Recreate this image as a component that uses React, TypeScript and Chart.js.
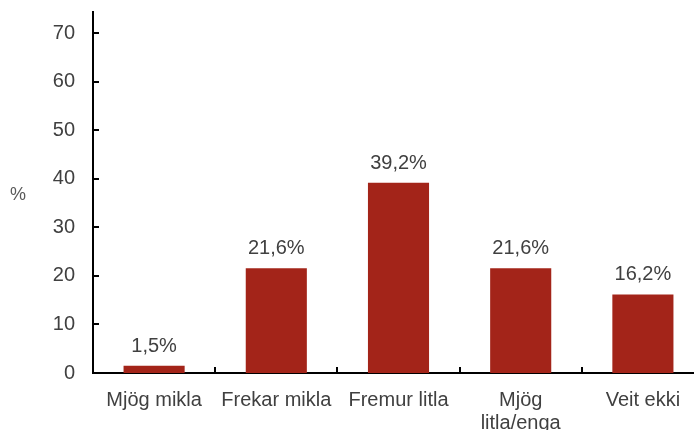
import React, { useEffect, useRef } from "react";
import { Chart, registerables } from "chart.js";

Chart.register(...registerables);

const categories: (string | string[])[] = [
  "Mjög mikla",
  "Frekar mikla",
  "Fremur litla",
  ["Mjög", "litla/enga"],
  "Veit ekki",
];
const values: number[] = [1.5, 21.6, 39.2, 21.6, 16.2];
const yTickValues: number[] = [0, 10, 20, 30, 40, 50, 60, 70];
const yAxisMax = 74.4;
const yUnitLabel = "%";

const BAR_COLOR = "#A32419";
const TEXT_COLOR = "#404040";
const FONT = "'Liberation Sans', Arial, sans-serif";

const fmt = (v: number) => v.toFixed(1).replace(".", ",") + "%";

const labelPlugin = {
  id: "customDecor",
  afterDraw(chart: any) {
    const ctx = chart.ctx;
    const meta = chart.getDatasetMeta(0);
    const xs = chart.scales.x;
    const ys = chart.scales.y;
    ctx.save();
    // data labels
    ctx.font = `20px ${FONT}`;
    ctx.fillStyle = TEXT_COLOR;
    ctx.textAlign = "center";
    ctx.textBaseline = "alphabetic";
    meta.data.forEach((el: any, i: number) => {
      ctx.fillText(fmt(values[i]), el.x, el.y - 14);
    });
    // inward tick marks on y axis
    ctx.strokeStyle = "#000";
    ctx.lineWidth = 2;
    const left = chart.chartArea.left;
    yTickValues.forEach((v) => {
      const y = Math.round(ys.getPixelForValue(v));
      ctx.beginPath();
      ctx.moveTo(left, y);
      ctx.lineTo(left + 6, y);
      ctx.stroke();
    });
    // inward tick marks on x axis at category boundaries
    const bottom = chart.chartArea.bottom;
    for (let i = 0; i < categories.length; i++) {
      const half = (xs.getPixelForValue(1) - xs.getPixelForValue(0)) / 2;
      const x = Math.round(xs.getPixelForValue(i) + half);
      ctx.beginPath();
      ctx.moveTo(x, bottom);
      ctx.lineTo(x, bottom - 6);
      ctx.stroke();
    }
    // unit label
    ctx.font = `18px ${FONT}`;
    ctx.fillStyle = "#595959";
    ctx.textAlign = "center";
    ctx.textBaseline = "middle";
    ctx.fillText(yUnitLabel, 18, ys.getPixelForValue(36.6));
    ctx.restore();
  },
};

export default function App() {
  const ref = useRef<HTMLCanvasElement | null>(null);
  useEffect(() => {
    document.body.style.margin = "0";
    document.body.style.overflow = "hidden";
    document.documentElement.style.overflow = "hidden";
    const canvas = ref.current!;
    const chart = new Chart(canvas, {
      type: "bar",
      data: {
        labels: categories,
        datasets: [
          {
            data: values,
            backgroundColor: BAR_COLOR,
            borderWidth: 0,
            categoryPercentage: 1,
            barPercentage: 0.5,
          },
        ],
      },
      options: {
        responsive: false,
        animation: false,
        layout: { padding: { top: 12, left: 0, right: 0, bottom: 0 } },
        plugins: {
          legend: { display: false },
          tooltip: { enabled: false },
          title: { display: false },
        },
        scales: {
          x: {
            type: "category",
            grid: { display: false, drawTicks: false },
            border: { display: true, color: "#000", width: 2 },
            ticks: {
              color: TEXT_COLOR,
              font: { family: FONT, size: 20, lineHeight: 1.15 },
              padding: 16,
              maxRotation: 0,
              autoSkip: false,
            },
            afterFit: (s: any) => {
              s.height = 57;
              s.paddingLeft = 0;
              s.paddingRight = 0;
            },
          },
          y: {
            type: "linear",
            min: 0,
            max: yAxisMax,
            grid: { display: false, drawTicks: false },
            border: { display: true, color: "#000", width: 2 },
            ticks: {
              stepSize: 10,
              includeBounds: false,
              color: TEXT_COLOR,
              font: { family: FONT, size: 20 },
              padding: 18,
            },
            afterBuildTicks: (s: any) => {
              s.ticks = yTickValues.map((v) => ({ value: v }));
            },
            afterFit: (s: any) => {
              s.width = 93;
              s.paddingTop = 0;
              s.paddingBottom = 0;
            },
          },
        },
      },
      plugins: [labelPlugin],
    });
    return () => chart.destroy();
  }, []);
  return (
    <div style={{ position: "fixed", left: 0, top: 0, width: 704, height: 430 }}>
      <canvas ref={ref} width={704} height={430} style={{ display: "block" }} />
    </div>
  );
}
